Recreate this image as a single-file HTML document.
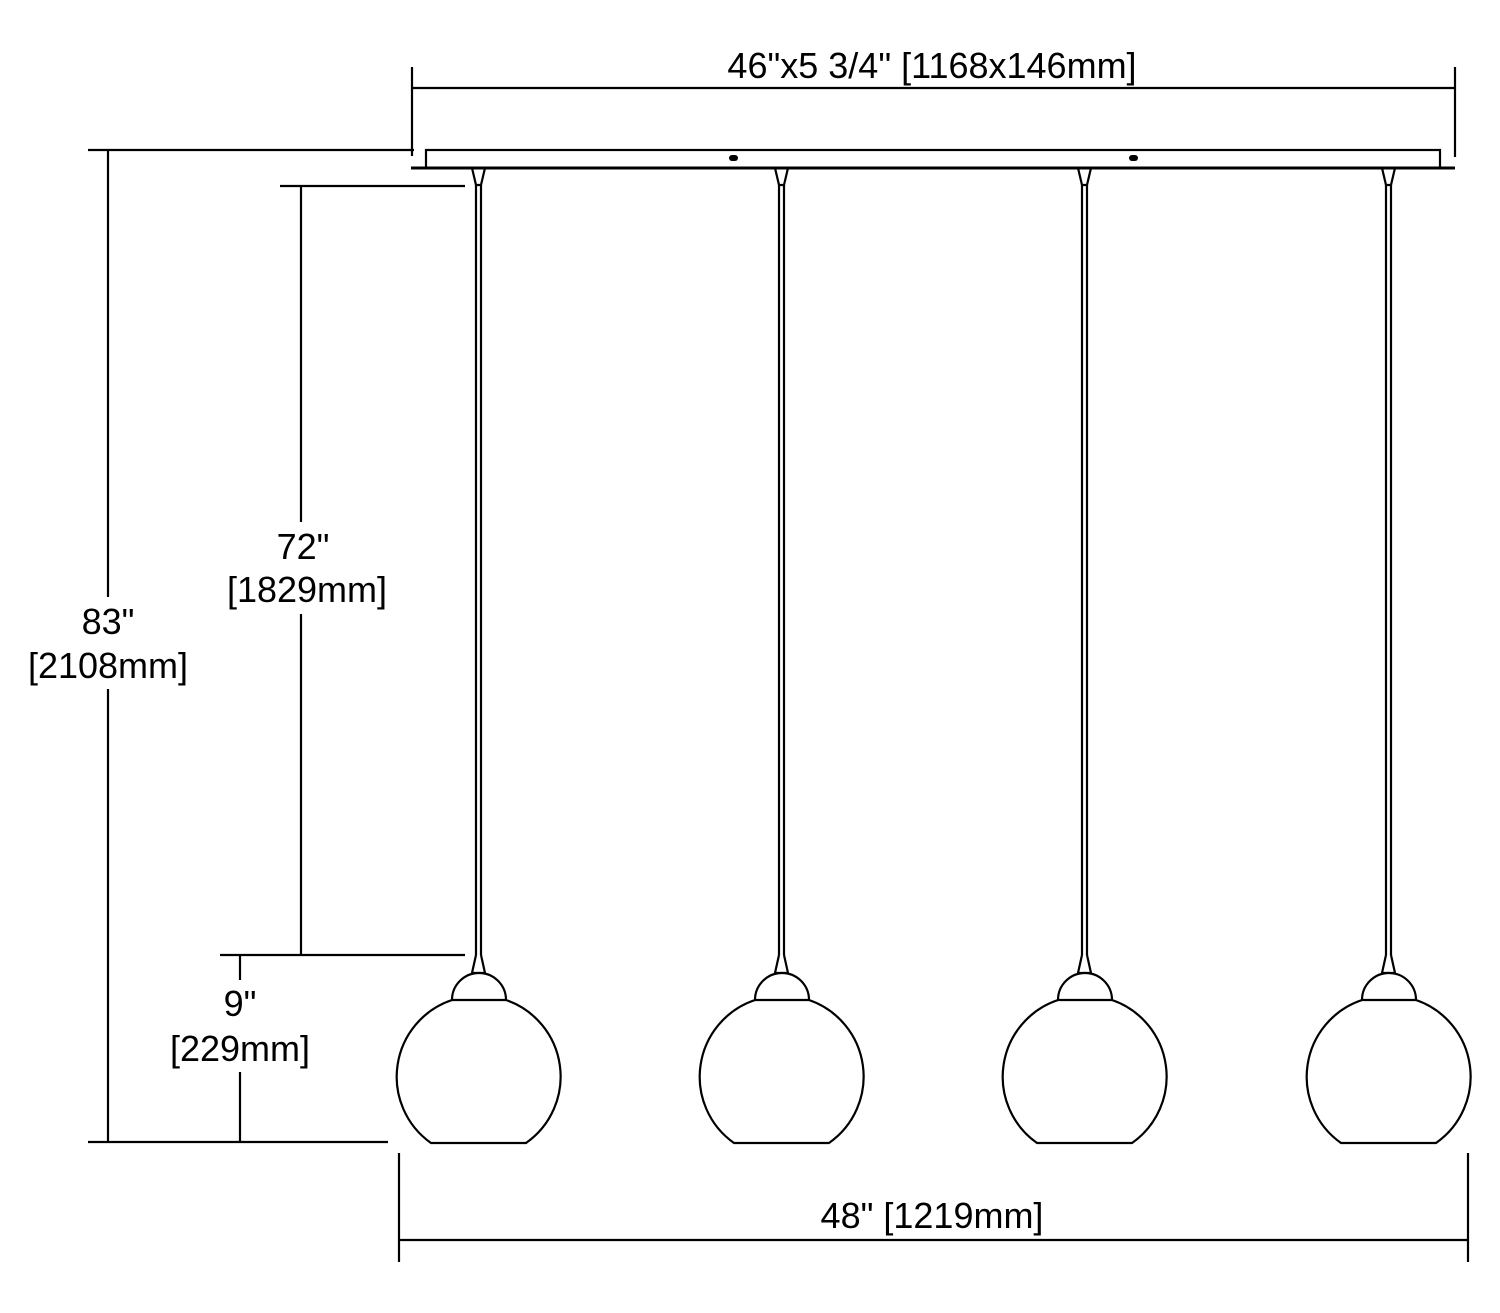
<!DOCTYPE html>
<html><head><meta charset="utf-8"><style>
html,body{margin:0;padding:0;background:#fff;}
svg{display:block;}
text{font-family:"Liberation Sans",Arial,sans-serif;font-size:36px;fill:#000;}
</style></head><body>
<svg width="1500" height="1313" viewBox="0 0 1500 1313" xmlns="http://www.w3.org/2000/svg">
<defs>
<g id="p" fill="none" stroke="#000" stroke-width="2.2">
  <path d="M-6,168 L-2,185 L3,185 L7,168"/>
  <line x1="-2" y1="185" x2="-2" y2="955"/>
  <line x1="3" y1="185" x2="3" y2="955"/>
  <path d="M-2,955 L-6,973 L7,973 L3,955" fill="#fff"/>
  <path d="M-26,1000 A27,27 0 0 1 28,1000 Z" fill="#fff"/>
  <path d="M-26,1000 A81,81 0 0 0 -47,1143 L48,1143 A81,81 0 0 0 28,1000"/>
</g>
</defs>
<g stroke="#000" stroke-width="2.2" fill="none">
  <line x1="412" y1="67" x2="412" y2="156"/>
  <line x1="1455" y1="67" x2="1455" y2="157"/>
  <line x1="412" y1="88" x2="1455" y2="88"/>
  <rect x="426" y="150" width="1014" height="18" fill="#fff"/>
  <line x1="411" y1="168" x2="1455" y2="168" stroke-width="3"/>
  <line x1="88" y1="150" x2="414" y2="150"/>
  <line x1="108" y1="150" x2="108" y2="1142"/>
  <line x1="88" y1="1142" x2="388" y2="1142"/>
  <line x1="280" y1="186" x2="465" y2="186"/>
  <line x1="301" y1="186" x2="301" y2="955"/>
  <line x1="220" y1="955" x2="465" y2="955"/>
  <line x1="240" y1="955" x2="240" y2="1142"/>
  <line x1="399" y1="1153" x2="399" y2="1262"/>
  <line x1="1468" y1="1153" x2="1468" y2="1262"/>
  <line x1="399" y1="1240" x2="1468" y2="1240"/>
</g>
<rect x="729" y="155" width="9" height="6" rx="3" fill="#000"/>
<rect x="1129" y="155" width="9" height="6" rx="3" fill="#000"/>
<use href="#p" x="478"/>
<use href="#p" x="781"/>
<use href="#p" x="1084"/>
<use href="#p" x="1388"/>
<g fill="#fff">
  <rect x="220" y="522" width="170" height="92"/>
  <rect x="25" y="597" width="170" height="92"/>
  <rect x="165" y="980" width="150" height="92"/>
</g>
<g text-anchor="middle">
  <text x="932" y="78">46"x5 3/4" [1168x146mm]</text>
  <text x="303" y="559">72"</text>
  <text x="307" y="602">[1829mm]</text>
  <text x="108" y="634">83"</text>
  <text x="108" y="678">[2108mm]</text>
  <text x="240" y="1016">9"</text>
  <text x="240" y="1061">[229mm]</text>
  <text x="932" y="1228">48" [1219mm]</text>
</g>
</svg>
</body></html>
